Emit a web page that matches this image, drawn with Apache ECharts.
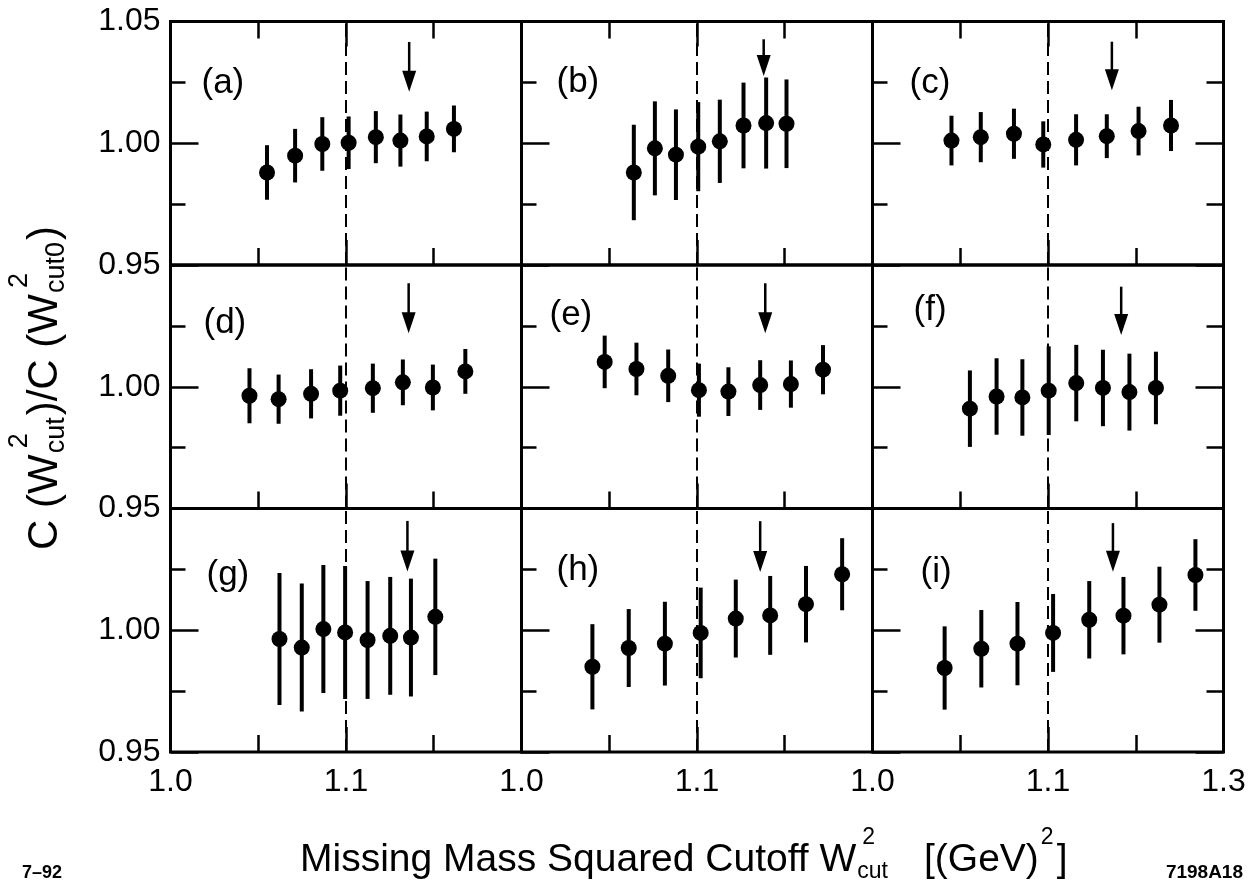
<!DOCTYPE html>
<html><head><meta charset="utf-8">
<script src="https://cdn.jsdelivr.net/npm/echarts@6/dist/echarts.min.js"></script>
<style>html,body{margin:0;padding:0;background:#fff}#c{width:1253px;height:892px}</style>
</head><body><div id="c"></div>
<script>
// ---------------- DATA ----------------
const panelNames = ['(a)','(b)','(c)','(d)','(e)','(f)','(g)','(h)','(i)'];

const xA = [1.055, 1.071, 1.0865, 1.1015, 1.117, 1.131, 1.146, 1.1615];
const yA = [0.988, 0.9949, 0.9997, 1.0002, 1.0025, 1.0011, 1.0028, 1.0059];
const eA = [0.0112, 0.011, 0.011, 0.0108, 0.0107, 0.0107, 0.0102, 0.0096];

const xB = [1.064, 1.076, 1.088, 1.1007, 1.113, 1.1265, 1.1394, 1.151];
const yB = [0.988, 0.9979, 0.9953, 0.9986, 1.0008, 1.0073, 1.0083, 1.008];
const eB = [0.0196, 0.0193, 0.0186, 0.0183, 0.0171, 0.0176, 0.0187, 0.0182];

const xC = [1.045, 1.0617, 1.0806, 1.0973, 1.116, 1.1335, 1.1516, 1.1701];
const yC = [1.0011, 1.0025, 1.0039, 0.9995, 1.0014, 1.0029, 1.005, 1.0073];
const eC = [0.0102, 0.0103, 0.0103, 0.0095, 0.0105, 0.009, 0.010, 0.0105];

const xD = [1.045, 1.0616, 1.0801, 1.0967, 1.1153, 1.1324, 1.1495, 1.168];
const yD = [0.9963, 0.9949, 0.9971, 0.9984, 0.9994, 1.0018, 0.9997, 1.0063];
const eD = [0.0113, 0.0101, 0.0101, 0.0103, 0.0101, 0.0094, 0.0094, 0.0092];

const xE = [1.0474, 1.0655, 1.0836, 1.1011, 1.1179, 1.136, 1.1535, 1.1718];
const yE = [1.0102, 1.0073, 1.0045, 0.9986, 0.998, 1.0007, 1.0011, 1.007];
const eE = [0.0108, 0.0108, 0.0108, 0.0109, 0.010, 0.0102, 0.0097, 0.0101];

const xF = [1.0555, 1.0707, 1.0854, 1.1004, 1.1161, 1.1313, 1.1464, 1.1615];
const yF = [0.991, 0.996, 0.9956, 0.9984, 1.0015, 0.9995, 0.9978, 0.9995];
const eF = [0.0157, 0.0157, 0.0157, 0.0182, 0.0157, 0.0157, 0.0158, 0.0149];

const xG = [1.0621, 1.0748, 1.0871, 1.0995, 1.1123, 1.1252, 1.137, 1.1509];
const yG = [0.9964, 0.9929, 1.0005, 0.9991, 0.996, 0.9977, 0.997, 1.0055];
const eG = [0.0271, 0.0263, 0.0263, 0.0273, 0.0242, 0.0242, 0.0242, 0.0239];

const xH = [1.0404, 1.0611, 1.0817, 1.1021, 1.1221, 1.1417, 1.1621, 1.1827];
const yH = [0.985, 0.9927, 0.9945, 0.9989, 1.0048, 1.0061, 1.0107, 1.023];
const eH = [0.0175, 0.016, 0.0172, 0.0186, 0.016, 0.0162, 0.0157, 0.0148];

const xI = [1.0411, 1.062, 1.0826, 1.1029, 1.1235, 1.143, 1.1635, 1.184];
const yI = [0.9845, 0.9924, 0.9945, 0.9989, 1.0043, 1.006, 1.0105, 1.0227];
const eI = [0.0171, 0.0159, 0.0171, 0.016, 0.0159, 0.0159, 0.0156, 0.0147];

// arrow: x position, top of shaft, tip (y values)
const arrowX   = [1.136, 1.138, 1.1364, 1.1357, 1.1389, 1.1417, 1.135, 1.136, 1.137];
const arrowTop = [1.0416, 1.0427, 1.0417, 1.0425, 1.0425, 1.0411, 1.0449, 1.0448, 1.044];
const arrowTip = [1.0211, 1.0276, 1.0218, 1.022, 1.022, 1.0213, 1.0241, 1.0239, 1.024];

const cutLineX = 1.1;

const xTickLabels = [['1.0','1.1',''], ['1.0','1.1',''], ['1.0','1.1','1.3']];
const yTickLabelsFirstRow = ['0.95','1.00','1.05'];
const yTickLabelsOtherRows = ['0.95','1.00',''];

const xTitleParts = [{t:'Missing Mass Squared Cutoff W'}, {sup:'2', sub:'cut'}, {gap: 34}, {t:'[(GeV)'}, {sup:'2'}, {t:']'}];
const yTitleParts = [{t:'C (W'}, {sup:'2', sub:'cut'}, {t:')/C (W'}, {sup:'2', sub:'cut0'}, {t:')'}];
const footLeft = '7–92';
const footRight = '7198A18';

// ---------------- LAYOUT ----------------
const L = 170.5, T = 21.5, W = 351, H = 243.5;
const labelOffX = [31, 35, 37, 33, 28, 41, 36, 35, 48];
const labelOffY = [62, 61, 62, 58, 50, 45, 67, 62, 64];
const FONT = '"Liberation Sans", Arial, Helvetica, sans-serif';

const xs = [xA,xB,xC,xD,xE,xF,xG,xH,xI];
const ys = [yA,yB,yC,yD,yE,yF,yG,yH,yI];
const es = [eA,eB,eC,eD,eE,eF,eG,eH,eI];

const grids = [], xAxes = [], yAxes = [], series = [], graphics = [];
const tickStyle = {color:'#000', width:2.5};

for (let p = 0; p < 9; p++) {
  const row = Math.floor(p / 3), col = p % 3;
  grids.push({left: L + col * W, top: T + row * H, width: W, height: H,
    show: true, borderColor: '#000', borderWidth: 3, backgroundColor: 'transparent', containLabel: false});
  const xi = xAxes.length;
  xAxes.push({gridIndex: p, type: 'value', min: 1.0, max: 1.2, interval: 0.1, position: 'bottom',
    axisLine: {show: false}, splitLine: {show: false}, minorSplitLine: {show: false},
    axisTick: {show: true, inside: true, length: 25, lineStyle: tickStyle},
    minorTick: {show: true, splitNumber: 2, length: 17, lineStyle: tickStyle},
    axisLabel: {show: row === 2, showMinLabel: true, showMaxLabel: true, margin: 14,
      fontSize: 32, fontFamily: FONT, color: '#000',
      formatter: v => { const k = Math.round((v - 1.0) * 10); return xTickLabels[col][k] || ''; }}});
  if (row === 0) {
    xAxes.push({gridIndex: p, type: 'value', min: 1.0, max: 1.2, interval: 0.1, position: 'top',
      axisLine: {show: false}, splitLine: {show: false},
      axisTick: {show: true, inside: true, length: 25, lineStyle: tickStyle},
      minorTick: {show: true, splitNumber: 2, length: 17, lineStyle: tickStyle},
      axisLabel: {show: false}});
  }
  const yi = yAxes.length;
  const yl = row === 0 ? yTickLabelsFirstRow : yTickLabelsOtherRows;
  yAxes.push({gridIndex: p, type: 'value', min: 0.95, max: 1.05, interval: 0.05, position: 'left',
    axisLine: {show: false}, splitLine: {show: false}, minorSplitLine: {show: false},
    axisTick: {show: true, inside: true, length: 28, lineStyle: tickStyle},
    minorTick: {show: true, splitNumber: 2, length: 15, lineStyle: tickStyle},
    axisLabel: {show: col === 0, showMinLabel: true, showMaxLabel: true, margin: 10,
      fontSize: 32, fontFamily: FONT, color: '#000',
      formatter: v => { const k = Math.round((v - 0.95) * 20); return yl[k] || ''; }}});
  if (col === 2) {
    yAxes.push({gridIndex: p, type: 'value', min: 0.95, max: 1.05, interval: 0.05, position: 'right',
      axisLine: {show: false}, splitLine: {show: false},
      axisTick: {show: true, inside: true, length: 28, lineStyle: tickStyle},
      minorTick: {show: true, splitNumber: 2, length: 17, lineStyle: tickStyle},
      axisLabel: {show: false}});
  }
  const pts = xs[p].map((x, i) => [x, ys[p][i], es[p][i]]);
  // error bars
  series.push({type: 'custom', xAxisIndex: xi, yAxisIndex: yi, clip: false, silent: true,
    encode: {x: 0, y: 1}, data: pts, z: 3,
    renderItem: (params, api) => {
      const x = api.value(0), y = api.value(1), e = api.value(2);
      const a = api.coord([x, y + e]), b = api.coord([x, y - e]);
      return {type: 'line', shape: {x1: a[0], y1: a[1], x2: b[0], y2: b[1]},
        style: {stroke: '#000', lineWidth: 4}};
    }});
  // points + dashed cut line
  series.push({type: 'scatter', xAxisIndex: xi, yAxisIndex: yi, data: pts.map(d => [d[0], d[1]]),
    symbol: 'circle', symbolSize: 16, itemStyle: {color: '#000', opacity: 1}, z: 4, silent: true,
    markLine: {silent: true, symbol: ['none', 'none'], label: {show: false},
      lineStyle: {color: '#000', type: [13, 6], width: 2, opacity: 1},
      data: [{xAxis: cutLineX}]}});
  // arrow
  series.push({type: 'custom', xAxisIndex: xi, yAxisIndex: yi, clip: false, silent: true, z: 4,
    encode: {x: 0, y: 1}, data: [[arrowX[p], arrowTop[p], arrowTip[p]]],
    renderItem: (params, api) => {
      const x = api.value(0);
      const t = api.coord([x, api.value(1)]), tip = api.coord([x, api.value(2)]);
      const hh = 21, hw = 7;
      return {type: 'group', children: [
        {type: 'line', shape: {x1: t[0], y1: t[1], x2: tip[0], y2: tip[1] - hh + 2},
          style: {stroke: '#000', lineWidth: 2.5}},
        {type: 'polygon', shape: {points: [[tip[0], tip[1]], [tip[0] - hw, tip[1] - hh], [tip[0] + hw, tip[1] - hh]]},
          style: {fill: '#000'}}
      ]};
    }});
  graphics.push({type: 'text', x: L + col * W + labelOffX[p], y: T + row * H + labelOffY[p],
    style: {text: panelNames[p], fontSize: 35, fontFamily: FONT, fill: '#000',
      align: 'left', verticalAlign: 'middle', textAlign: 'left', textVerticalAlign: 'middle'}});
}

// math-like titles built from measured text pieces
const mctx = document.createElement('canvas').getContext('2d');
function tw(t, s) { mctx.font = s + 'px ' + FONT; return mctx.measureText(t).width; }
function mathRow(parts, F, S, supOff, subOff) {
  const els = []; let x = 0;
  const mk = (t, px, py, s) => ({type: 'text', x: px, y: py,
    style: {text: t, fontSize: s, fontFamily: FONT, fill: '#000',
      align: 'left', verticalAlign: 'middle', textAlign: 'left', textVerticalAlign: 'middle'}});
  parts.forEach(p => {
    if (p.gap !== undefined) { x += p.gap; }
    else if (p.t !== undefined) { els.push(mk(p.t, x, 0, F)); x += tw(p.t, F); }
    else {
      let w = 0;
      if (p.sub) { els.push(mk(p.sub, x + 1, subOff, S)); w = Math.max(w, tw(p.sub, S) + 1); }
      if (p.sup) { els.push(mk(p.sup, x + (p.sub ? 6 : 2), supOff, S)); w = Math.max(w, tw(p.sup, S) + 3); }
      x += w + 2;
    }
  });
  return {els, width: x};
}
const xt = mathRow(xTitleParts, 39, 23, -22, 12);
graphics.push({type: 'group', x: 300, y: 860, children: xt.els});
const yt = mathRow(yTitleParts, 42, 27, -25, 12);
graphics.push({type: 'group', x: 45, y: 550, rotation: Math.PI / 2, children: yt.els});

graphics.push({type: 'text', x: 22, y: 873, style: {text: footLeft, fontSize: 18, fontWeight: 'bold', fontFamily: FONT,
  fill: '#000', align: 'left', verticalAlign: 'middle', textAlign: 'left', textVerticalAlign: 'middle'}});
graphics.push({type: 'text', x: 1243, y: 873, style: {text: footRight, fontSize: 19, fontWeight: 'bold', fontFamily: FONT,
  fill: '#000', align: 'right', verticalAlign: 'middle', textAlign: 'right', textVerticalAlign: 'middle'}});

const chart = echarts.init(document.getElementById('c'), null, {renderer: 'canvas'});
chart.setOption({
  animation: false,
  backgroundColor: '#fff',
  grid: grids, xAxis: xAxes, yAxis: yAxes, series: series, graphic: graphics
});
</script></body></html>
